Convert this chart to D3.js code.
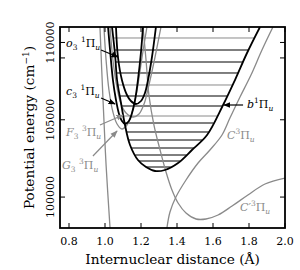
<!DOCTYPE html>
<html><head><meta charset="utf-8">
<script src="https://cdn.jsdelivr.net/npm/d3@7"></script>
<style>body{margin:0;background:#fff}</style>
</head><body><svg id="c" width="300" height="270" font-family="'DejaVu Serif', 'Liberation Serif', serif"></svg>
<script>
// ---- data (r in Å, energy in cm^-1) ----
const xTicks=[0.8,1.0,1.2,1.4,1.6,1.8,2.0];
const xTickLabels=["0.8","1.0","1.2","1.4","1.6","1.8","2.0"];
const yTicks=[100000,105000,109000,110000];
const yTickLabels=["100000","105000","","110000"];

const bPi=[[1.039,111000],[1.056,109189],[1.067,107572],[1.089,106084],[1.111,104661],[1.139,103368],[1.183,102398],[1.228,101945],[1.278,101686],[1.333,101751],[1.406,102204],[1.483,103044],[1.567,104015],[1.656,105955],[1.722,107572],[1.789,109318],[1.861,111000]];
const c3Pi=[[1.017,111000],[1.028,109512],[1.044,107572],[1.061,106278],[1.078,105373],[1.094,104920],[1.111,104726],[1.133,104920],[1.150,105437],[1.167,106278],[1.183,107572],[1.200,109383],[1.211,111000]];
const o3Pi=[[1.061,111000],[1.072,109060],[1.094,107572],[1.122,106602],[1.144,106214],[1.172,106020],[1.200,106214],[1.222,106731],[1.239,107572],[1.261,109060],[1.283,111000]];
const G3Pi=[[0.994,111000],[1.006,108866],[1.022,106925],[1.044,105502],[1.067,104726],[1.094,104403],[1.122,104661],[1.150,105437],[1.178,106925],[1.206,109060],[1.233,111000]];
const F3Pi=[[1.028,111000],[1.044,108866],[1.067,107055],[1.089,106020],[1.117,105437],[1.156,105179],[1.189,105373],[1.217,106020],[1.244,107249],[1.278,109060],[1.311,111000]];
const CPiInner=[[0.972,111000],[0.989,106278],[1.006,102074],[1.028,98000]];
const CPiOuter=[[1.933,111000],[1.872,109512],[1.811,107895],[1.750,106472],[1.694,105114],[1.650,104015],[1.583,103044],[1.517,102204],[1.450,101104],[1.394,100004],[1.361,99034],[1.344,98000]];
const CpPi=[[1.211,111000],[1.228,108866],[1.244,106602],[1.272,104661],[1.306,103044],[1.339,101622],[1.372,100457],[1.406,99616],[1.450,98970],[1.506,98582],[1.561,98582],[1.628,98840],[1.706,99422],[1.794,100134],[1.889,100845],[2.0,101233]];

const levelE=[110289,109512,108736,108025,107249,106537,105890,105243,104791,104209,103691,103174,102721,102333,101945];
const levelGray=[true,false,false,false,true,false,false,true,false,false,false,false,false,false,false];

// ---- layout ----
const svg=d3.select("#c");
const L=60,R=285,T=27,B=228;
const x=d3.scaleLinear().domain([0.75,2.0]).range([L,R]);
const y=d3.scaleLinear().domain([98000,111000]).range([B,T]);
const BLACK="#000", GRAY="#8a8a8a";
const FONT="'DejaVu Serif', 'Liberation Serif', serif";

svg.append("defs").append("clipPath").attr("id","clip").append("rect")
  .attr("x",L).attr("y",T).attr("width",R-L).attr("height",B-T);
const mk=(id,col)=>svg.select("defs").append("marker").attr("id",id).attr("viewBox","0 0 10 10")
  .attr("refX",9).attr("refY",5).attr("markerWidth",6).attr("markerHeight",6).attr("orient","auto")
  .append("path").attr("d","M0,1L10,5L0,9z").attr("fill",col);
mk("ab",BLACK); mk("ag",GRAY);

const g=svg.append("g").attr("clip-path","url(#clip)");

function cross(pts,E,left){
  let mi=0; pts.forEach((p,i)=>{if(p[1]<pts[mi][1])mi=i;});
  const seg=left?pts.slice(0,mi+1):pts.slice(mi);
  for(let i=0;i<seg.length-1;i++){
    const a=seg[i],b=seg[i+1];
    if((a[1]-E)*(b[1]-E)<=0){const t=(E-a[1])/(b[1]-a[1]);return a[0]+t*(b[0]-a[0]);}
  }
  return null;
}
levelE.forEach((E,i)=>{
  const r1=cross(bPi,E,true), r2=cross(bPi,E,false);
  g.append("line").attr("x1",x(r1)).attr("x2",x(r2)).attr("y1",y(E)).attr("y2",y(E))
   .attr("stroke",levelGray[i]?GRAY:BLACK).attr("stroke-width",1);
});

const line=d3.line().x(d=>x(d[0])).y(d=>y(d[1])).curve(d3.curveCatmullRom.alpha(0.5));
[[CPiInner,GRAY,1.3],[CPiOuter,GRAY,1.3],[CpPi,GRAY,1.3],[G3Pi,GRAY,1.3],[F3Pi,GRAY,1.3],
 [c3Pi,BLACK,1.8],[o3Pi,BLACK,1.8],[bPi,BLACK,1.8]].forEach(([d,c,w])=>{
  g.append("path").attr("d",line(d)).attr("fill","none").attr("stroke",c).attr("stroke-width",w);
});

const arrows=[
 [[0.978,109512],[1.072,109060],BLACK,"ab"],
 [[0.978,106408],[1.056,106020],BLACK,"ab"],
 [[0.972,104661],[1.100,105308],GRAY,"ag"],
 [[0.933,102656],[1.067,104274],GRAY,"ag"],
 [[1.767,105955],[1.661,105955],BLACK,"ab"]];
arrows.forEach(([a,b,c,m])=>{
  svg.append("line").attr("x1",x(a[0])).attr("y1",y(a[1])).attr("x2",x(b[0])).attr("y2",y(b[1]))
    .attr("stroke",c).attr("stroke-width",1.2).attr("marker-end",`url(#${m})`);
});

function label(px,py,col,parts){
  const t=svg.append("text").attr("x",px).attr("y",py).attr("fill",col).attr("font-size",11).attr("font-family",FONT);
  let off=0;
  parts.forEach(([s,kind,it])=>{
    const sp=t.append("tspan").text(s);
    let target=0, fs=11;
    if(kind==="sub"){target=3;fs=7.5;} else if(kind==="sup"){target=-5;fs=7.5;}
    sp.attr("dy",target-off).attr("font-size",fs);
    if(it) sp.attr("font-style","italic");
    off=target;
  });
}
label(66,47,BLACK,[["o","n",1],["3","sub"],[" ","n"],["1","sup"],["Π","n"],["u","sub",1]]);
label(66,95,BLACK,[["c","n",1],["3","sub"],[" ","n"],["1","sup"],["Π","n"],["u","sub",1]]);
label(66,136,GRAY,[["F","n",1],["3","sub"],[" ","n"],["3","sup"],["Π","n"],["u","sub",1]]);
label(62,169,GRAY,[["G","n",1],["3","sub"],[" ","n"],["3","sup"],["Π","n"],["u","sub",1]]);
label(247,108,BLACK,[["b","n",1],["1","sup"],["Π","n"],["u","sub",1]]);
label(227,139,GRAY,[["C","n",1],["3","sup"],["Π","n"],["u","sub",1]]);
label(240,211,GRAY,[["C′","n",1],["3","sup"],["Π","n"],["u","sub",1]]);

const tk=svg.append("g").attr("stroke",BLACK).attr("stroke-width",1);
xTicks.forEach(v=>{
  tk.append("line").attr("x1",x(v)).attr("x2",x(v)).attr("y1",B).attr("y2",B-5);
  tk.append("line").attr("x1",x(v)).attr("x2",x(v)).attr("y1",T).attr("y2",T+5);
});
yTicks.forEach(v=>{
  tk.append("line").attr("x1",L).attr("x2",L+5).attr("y1",y(v)).attr("y2",y(v));
  tk.append("line").attr("x1",R).attr("x2",R-5).attr("y1",y(v)).attr("y2",y(v));
});
xTicks.forEach((v,i)=>svg.append("text").attr("x",x(v)).attr("y",245).attr("text-anchor","middle")
  .attr("font-family",FONT).attr("font-size",11).text(xTickLabels[i]));
yTicks.forEach((v,i)=>svg.append("text").attr("transform",`translate(54,${y(v)}) rotate(-90)`)
  .attr("text-anchor","middle").attr("font-family",FONT).attr("font-size",11).text(yTickLabels[i]));

svg.append("rect").attr("x",L).attr("y",T).attr("width",R-L).attr("height",B-T)
  .attr("fill","none").attr("stroke",BLACK).attr("stroke-width",1.8);

svg.append("text").attr("x",(L+R)/2).attr("y",264).attr("text-anchor","middle").attr("font-size",13.7)
  .attr("font-family",FONT).text("Internuclear distance (Å)");
const yt=svg.append("text").attr("transform",`translate(34,${(T+B)/2}) rotate(-90)`)
  .attr("text-anchor","middle").attr("font-size",13.7).attr("font-family",FONT);
yt.append("tspan").text("Potential energy (cm");
yt.append("tspan").attr("dy",-5.5).attr("font-size",9).text("−1");
yt.append("tspan").attr("dy",5.5).text(")");
</script></body></html>
